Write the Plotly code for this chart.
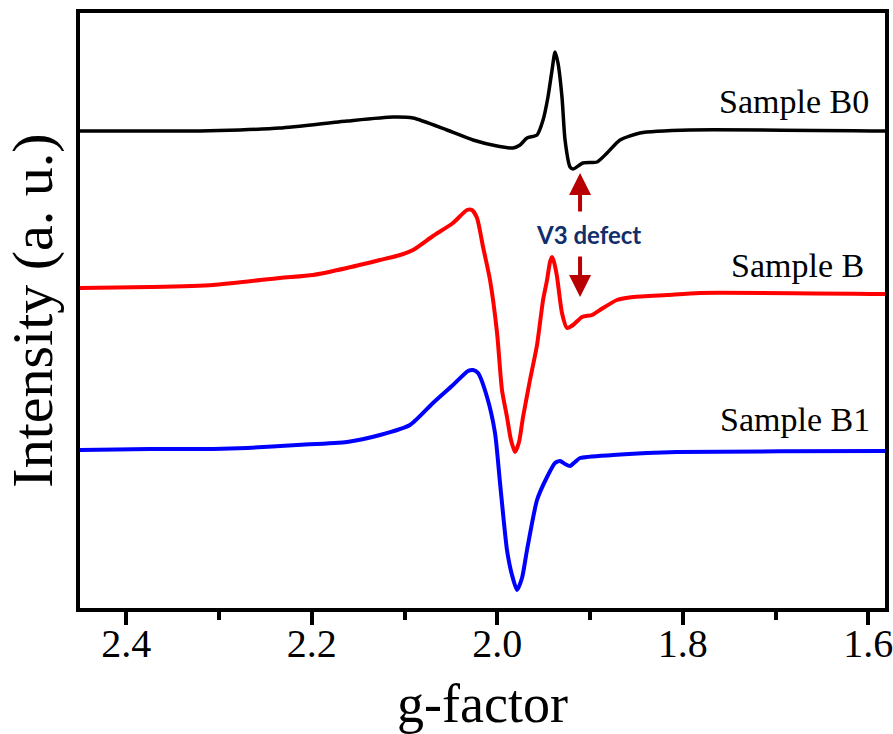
import plotly.graph_objects as go

# ---------------- data (g-factor, intensity in a.u., offsets included) ----------------
g_B0 = [2.460, 2.450, 2.3206, 2.2775, 2.2343, 2.1621, 2.1125, 2.0909, 2.0543, 2.0262,
        2.0003, 1.9831, 1.9755, 1.9680, 1.9572, 1.9507, 1.9454, 1.9410, 1.9378, 1.9346,
        1.9303, 1.9270, 1.9216, 1.9184, 1.9076, 1.8925, 1.8817, 1.8677, 1.8462, 1.7922,
        1.5820, 1.570]
I_B0 = [477, 477, 477, 478, 480, 487, 491, 490, 478, 468,
        462, 460, 463, 470, 473, 488, 511, 538, 556, 545,
        511, 468, 441, 439, 445, 446, 455, 468, 475, 478,
        477, 477]

g_B = [2.460, 2.450, 2.3745, 2.3066, 2.2343, 2.1988, 2.1621, 2.1265, 2.1049, 2.0909,
       2.0694, 2.0478, 2.0327, 2.0273, 2.0219, 2.0154, 2.0079, 2.0003, 1.9950, 1.9896,
       1.9853, 1.9809, 1.9766, 1.9723, 1.9648, 1.9572, 1.9507, 1.9464, 1.9432, 1.9410,
       1.9389, 1.9356, 1.9303, 1.9249, 1.9184, 1.9087, 1.8979, 1.8893, 1.8710, 1.8537,
       1.8170, 1.7815, 1.5820, 1.570]
I_B = [320, 320, 321, 323, 330, 333, 340, 348, 353, 358,
       372, 385, 398, 398, 390, 361, 328, 275, 218, 191,
       168, 156, 166, 191, 228, 263, 308, 328, 346, 351,
       346, 331, 295, 280, 283, 291, 293, 298, 308, 311,
       313, 315, 314, 314]

g_B1 = [2.460, 2.450, 2.3745, 2.3066, 2.2699, 2.2160, 2.1621, 2.1265, 2.0942, 2.0694,
        2.0478, 2.0316, 2.0262, 2.0208, 2.0111, 2.0025, 1.9971, 1.9896, 1.9842, 1.9788,
        1.9734, 1.9680, 1.9572, 1.9464, 1.9378, 1.9324, 1.9270, 1.9216, 1.9162, 1.9108,
        1.8753, 1.8386, 1.8062, 1.5820, 1.570]
I_B1 = [158, 158, 159, 159, 160, 163, 166, 173, 183, 205,
        223, 237, 238, 235, 211, 175, 125, 58, 33, 18,
        30, 58, 108, 131, 145, 147, 144, 142, 146, 150,
        153, 155, 156, 157, 157]

series_names = ["Sample B0", "Sample B", "Sample B1"]
series_colors = ["#000000", "#FF0000", "#0000FF"]
series_widths = [3.5, 4, 4]

x_ticks = [2.4, 2.2, 2.0, 1.8, 1.6]
x_tick_text = ["2.4", "2.2", "2.0", "1.8", "1.6"]
x_minor_ticks = [2.3, 2.1, 1.9, 1.7]

# label anchor positions (g, intensity)
label_pos = [(1.6014, 507), (1.6068, 343), (1.6003, 189)]
defect_arrow_g = 1.9108
defect_text_g = 1.9022
defect_text_y = 374
arrow_up = (435, 395)    # tip, tail
arrow_down = (311, 353)  # tip, tail

SERIF = "Liberation Serif"

fig = go.Figure()
for gx, iy, name, col, w in zip([g_B0, g_B, g_B1], [I_B0, I_B, I_B1], series_names,
                                series_colors, series_widths):
    fig.add_trace(go.Scatter(
        x=gx, y=iy, mode="lines", name=name,
        line=dict(color=col, width=w, shape="spline", smoothing=0.6),
        showlegend=False,
    ))

for (gx, iy), name in zip(label_pos, series_names):
    fig.add_annotation(x=gx, y=iy, text=name, showarrow=False, xanchor="right",
                       yanchor="middle", xshift=4,
                       font=dict(family=SERIF, size=34, color="black"))

fig.add_annotation(x=defect_text_g, y=defect_text_y, text="<b>V3 defect</b>", showarrow=False,
                   xanchor="center", yanchor="middle",
                   font=dict(family="Lato", size=24, color="#102E6B"))
for tip, tail in [arrow_up, arrow_down]:
    fig.add_annotation(x=defect_arrow_g, y=tip, ax=defect_arrow_g, ay=tail, axref="x", ayref="y",
                       xref="x", yref="y", text="", showarrow=True, arrowhead=2,
                       arrowsize=1.1, arrowwidth=4, arrowcolor="#B80000")

fig.update_layout(
    width=893, height=734,
    margin=dict(l=80, r=8, t=13, b=126),
    plot_bgcolor="white", paper_bgcolor="white",
    xaxis=dict(
        range=[2.45, 1.582], tickvals=x_ticks, ticktext=x_tick_text,
        ticks="outside", ticklen=13, tickwidth=4, tickcolor="black",
        minor=dict(ticks="outside", ticklen=8, tickwidth=4, tickcolor="black",
                   tickvals=x_minor_ticks),
        showline=True, linewidth=4, linecolor="black", mirror=True,
        showgrid=False, zeroline=False, automargin=False,
        ticklabelstandoff=-16, ticklabeloverflow="allow",
        tickfont=dict(family=SERIF, size=40, color="black"),
        title=dict(text="g-factor", font=dict(family=SERIF, size=54, color="black"), standoff=30),
    ),
    yaxis=dict(
        range=[0, 595], showticklabels=False, ticks="",
        showline=True, linewidth=4, linecolor="black", mirror=True,
        showgrid=False, zeroline=False, automargin=False,
        title=dict(text="Intensity (a. u.)", font=dict(family=SERIF, size=58, color="black"), standoff=10),
    ),
)

fig.write_html("out.html")
